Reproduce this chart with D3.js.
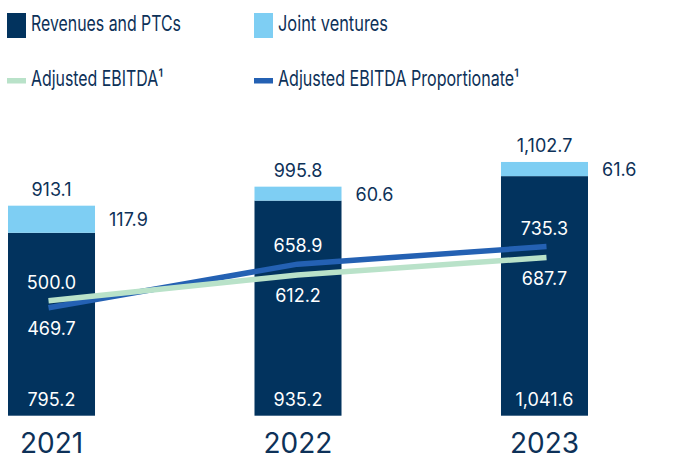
<!DOCTYPE html>
<html>
<head>
<meta charset="utf-8">
<script src="https://cdn.jsdelivr.net/npm/d3@7"></script>
<style>
  body { margin: 0; background: #fff; }
  svg { display: block; font-family: "Inter", "Roboto", sans-serif; }
</style>
</head>
<body>
<svg id="chart" width="675" height="461"></svg>
<script>
// data
const years = ["2021", "2022", "2023"];
const revenues = [795.2, 935.2, 1041.6];
const jointVentures = [117.9, 60.6, 61.6];
const totals = [913.1, 995.8, 1102.7];
const ebitda = [500.0, 612.2, 687.7];
const ebitdaProp = [469.7, 658.9, 735.3];

const fmt = d3.format(",.1f");

const colors = {
    rev: "#02335e",
    jv: "#7ecef3",
    ebitda: "#b9e2c9",
    prop: "#2461b3",
    text: "#0d3158"
};

const svg = d3.select("#chart");

// 比例尺
const x = d3.scaleBand()
    .domain(years)
    .range([8, 588])
    .paddingInner(0.647)
    .paddingOuter(0);

// 折线的点稍微超出柱子中心
const xLine = d3.scalePoint()
    .domain(years)
    .range([48.5, 546.5]);

const y = d3.scaleLinear()
    .domain([0, 1200])
    .range([415.7, 139.7]);

const cx = d => x(d) + x.bandwidth() / 2;

// 图例 (字体较窄，用 textLength 压缩)
const legend = svg.append("g");
const legendItems = [
    { label: "Revenues and PTCs", color: colors.rev, type: "rect", lx: 7, ly: 13, w: 150 },
    { label: "Joint ventures", color: colors.jv, type: "rect", lx: 254, ly: 13, w: 110 },
    { label: "Adjusted EBITDA\u00b9", color: colors.ebitda, type: "line", lx: 7, ly: 78, w: 132 },
    { label: "Adjusted EBITDA Proportionate\u00b9", color: colors.prop, type: "line", lx: 254, ly: 78, w: 241 }
];
legendItems.forEach(item => {
    legend.append("rect")
        .attr("x", item.lx).attr("y", item.ly)
        .attr("width", 19)
        .attr("height", item.type === "rect" ? 25 : 5.5)
        .attr("fill", item.color);
    legend.append("text")
        .attr("x", item.lx + 24)
        .attr("y", item.type === "rect" ? item.ly + 18 : item.ly + 8)
        .attr("fill", colors.text)
        .attr("font-size", 21)
        .attr("textLength", item.w)
        .attr("lengthAdjust", "spacingAndGlyphs")
        .text(item.label);
});

// 柱子
const bars = svg.append("g");
years.forEach((yr, i) => {
    bars.append("rect")
        .attr("x", x(yr))
        .attr("y", y(revenues[i]))
        .attr("width", x.bandwidth())
        .attr("height", y(0) - y(revenues[i]))
        .attr("fill", colors.rev);
    bars.append("rect")
        .attr("x", x(yr))
        .attr("y", y(revenues[i] + jointVentures[i]))
        .attr("width", x.bandwidth())
        .attr("height", y(revenues[i]) - y(revenues[i] + jointVentures[i]))
        .attr("fill", colors.jv);
});

// 折线
const line = d3.line()
    .x((d, i) => xLine(years[i]))
    .y(d => y(d));

svg.append("path")
    .datum(ebitdaProp)
    .attr("d", line)
    .attr("fill", "none")
    .attr("stroke", colors.prop)
    .attr("stroke-width", 5.5);

svg.append("path")
    .datum(ebitda)
    .attr("d", line)
    .attr("fill", "none")
    .attr("stroke", colors.ebitda)
    .attr("stroke-width", 5.5);

// 标签
const labels = svg.append("g")
    .attr("font-size", 18)
    .attr("text-anchor", "middle");

years.forEach((yr, i) => {
    const top = y(revenues[i] + jointVentures[i]);
    // 总数
    labels.append("text")
        .attr("x", cx(yr))
        .attr("y", top - 10)
        .attr("fill", colors.text)
        .text(fmt(totals[i]));
    // 合资
    labels.append("text")
        .attr("x", x(yr) + x.bandwidth() + 14)
        .attr("y", (top + y(revenues[i])) / 2 + 7)
        .attr("text-anchor", "start")
        .attr("fill", colors.text)
        .text(fmt(jointVentures[i]));
    // 收入
    labels.append("text")
        .attr("x", cx(yr))
        .attr("y", y(0) - 10)
        .attr("fill", "#fff")
        .text(fmt(revenues[i]));
    // EBITDA
    const hi = Math.max(ebitda[i], ebitdaProp[i]);
    const lo = Math.min(ebitda[i], ebitdaProp[i]);
    labels.append("text")
        .attr("x", cx(yr))
        .attr("y", y(hi) - 12)
        .attr("fill", "#fff")
        .text(fmt(hi));
    labels.append("text")
        .attr("x", cx(yr))
        .attr("y", y(lo) + 27)
        .attr("fill", "#fff")
        .text(fmt(lo));
    // 年份
    svg.append("text")
        .attr("x", cx(yr))
        .attr("y", 453)
        .attr("text-anchor", "middle")
        .attr("font-size", 28)
        .attr("fill", colors.text)
        .text(yr);
});
</script>
</body>
</html>
